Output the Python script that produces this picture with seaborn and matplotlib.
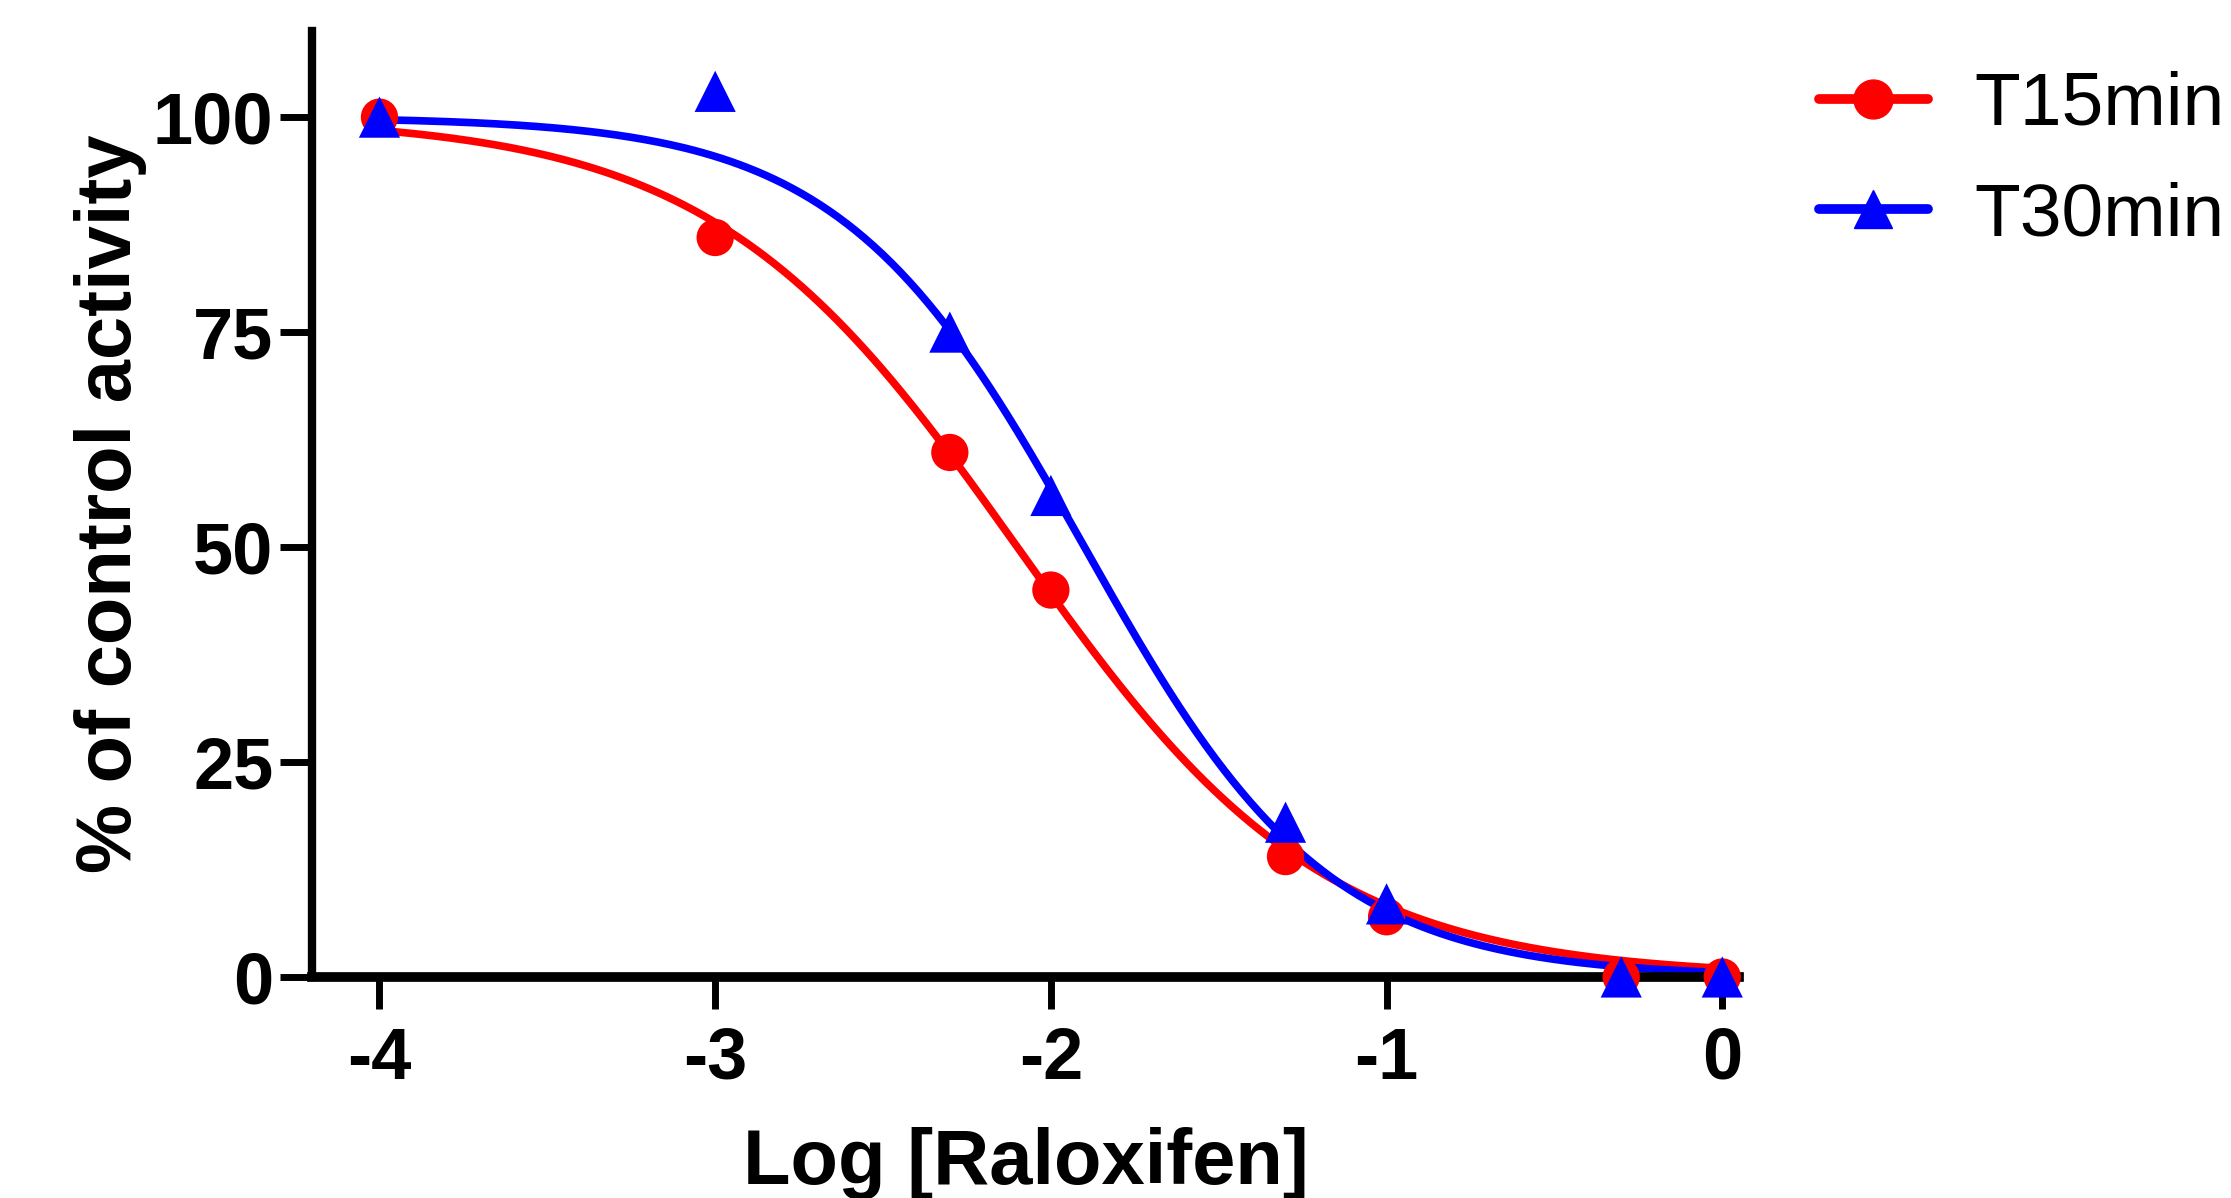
import numpy as np
import pandas as pd
import matplotlib
matplotlib.use("Agg")
import matplotlib.pyplot as plt
from matplotlib.lines import Line2D
import seaborn as sns

# Measured points (log concentration vs % of control)
log_conc = [-4, -3, -2.301, -2, -1.301, -1, -0.301, 0]
t15_values = [100, 86, 61, 45, 14, 7, 0, 0]
t30_values = [100, 103, 75, 56, 18, 8.5, 0, 0]

# Fitted dose-response parameters (top, bottom, logIC50, hill slope)
t15_fit = [100, 0, -2.1, 0.95]
t30_fit = [100, 0, -1.9, 1.2]

series_names = ["T15min", "T30min"]
series_colors = ["#ff0000", "#0000ff"]
series_markers = ["o", "^"]


def dose_response(x, top, bottom, log_ic50, hill):
    return bottom + (top - bottom) / (1 + 10 ** ((x - log_ic50) * hill))


sns.set_style("ticks")
plt.rcParams["font.family"] = ["Liberation Sans", "DejaVu Sans"]
plt.rcParams["text.color"] = "black"
plt.rcParams["axes.labelcolor"] = "black"

fig = plt.figure(figsize=(22.31, 11.98), dpi=100)
ax = fig.add_axes([0.140, 0.1845, 0.6395, 0.7895])

x_fit = np.linspace(min(log_conc), max(log_conc), 300)
for name, vals, fit, color, marker in zip(series_names, [t15_values, t30_values],
                                          [t15_fit, t30_fit], series_colors, series_markers):
    curve = pd.DataFrame({"x": x_fit, "y": dose_response(x_fit, *fit)})
    sns.lineplot(data=curve, x="x", y="y", color=color, linewidth=5.5, ax=ax, clip_on=False)
    pts = pd.DataFrame({"x": log_conc, "y": vals})
    sns.scatterplot(data=pts, x="x", y="y", color=color, marker=marker,
                    s=720 if marker == "o" else 880, edgecolor="none", ax=ax,
                    clip_on=False, zorder=5)

ax.set_xlim(-4.2, 0.05)
ax.set_ylim(0, 110)
ax.set_xticks([-4, -3, -2, -1, 0])
ax.set_xticklabels(["-4", "-3", "-2", "-1", "0"])
ax.set_yticks([0, 25, 50, 75, 100])

for side in ["top", "right"]:
    ax.spines[side].set_visible(False)
ax.spines["left"].set_linewidth(6)
ax.spines["bottom"].set_linewidth(7)
ax.spines["left"].set_color("black")
ax.spines["bottom"].set_color("black")

ax.tick_params(axis="both", which="major", length=23, width=5, color="black",
               labelsize=52, labelcolor="black")
ax.tick_params(axis="y", pad=5)
ax.tick_params(axis="x", pad=12)
for lab in ax.get_xticklabels() + ax.get_yticklabels():
    lab.set_fontweight("bold")

ax.set_xlabel("Log [Raloxifen]", fontsize=56, fontweight="bold", labelpad=24, color="black")
ax.set_ylabel("% of control activity", fontsize=56, fontweight="bold", labelpad=4, color="black")

handles = [Line2D([0], [0], color=c, linewidth=7, marker=m, markersize=28)
           for c, m in zip(series_colors, series_markers)]
fig.legend(handles, series_names, loc="center left", bbox_to_anchor=(0.8153, 0.866),
           frameon=False, fontsize=54, handlelength=1.45, handletextpad=0.62,
           labelspacing=0.55, borderpad=0, borderaxespad=0, labelcolor="black")

fig.savefig("out.png", dpi=100)
